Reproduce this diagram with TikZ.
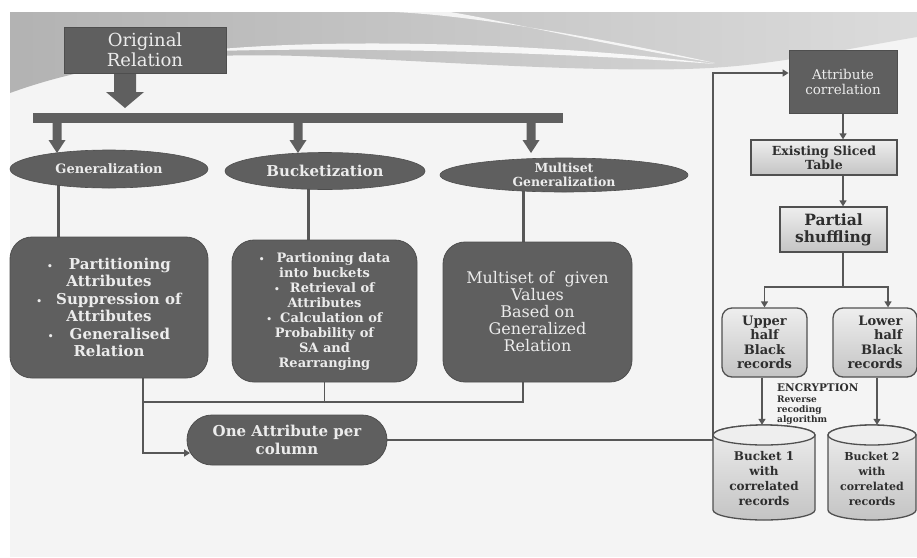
\documentclass[tikz,border=0pt]{standalone}
\usepackage{fontspec}
\setmainfont{DejaVu Serif}
\usetikzlibrary{arrows.meta,shapes.geometric,backgrounds,calc}
\definecolor{dk}{HTML}{5F5F5F}
\definecolor{dkb}{HTML}{4E4E4E}
\definecolor{ln}{HTML}{575757}
\definecolor{lt}{HTML}{ECECEC}
\definecolor{panel}{HTML}{F4F4F4}
\definecolor{lbord}{HTML}{505050}
\definecolor{ltop}{HTML}{EEEEEE}
\definecolor{lbot}{HTML}{C4C4C4}
\definecolor{txt}{HTML}{2E2E2E}
\newcommand\fsz[2]{\fontsize{#1}{#2}\selectfont}
\tikzset{
  bigdown/.pic={\fill[dk] (-11,0) -- (11,0) -- (11,18) -- (19,18) -- (0,34) -- (-19,18) -- (-11,18) -- cycle;},
  smalldown/.pic={\fill[dk] (-4.5,0) -- (4.5,0) -- (4.5,17) -- (8.5,17) -- (0,30) -- (-8.5,17) -- (-4.5,17) -- cycle;},
}
\begin{document}
\begin{tikzpicture}[x=1pt,y=-1pt,
  darkrect/.style={draw=dkb, line width=0.8pt, fill=dk, text=lt, align=center, inner sep=0pt},
  darkell/.style={ellipse, draw=dkb, line width=0.6pt, fill=dk, text=lt, align=center, inner sep=0pt},
  lightrect/.style={draw=lbord, line width=1.3pt, top color=ltop, bottom color=lbot, text=txt, align=center, inner sep=0pt},
  conn/.style={draw=ln, line width=1.7pt},
  heavy/.style={draw=ln, line width=3pt},
  arr/.style={conn, -{Triangle[length=6pt,width=7pt]}},
  cylfill/.style={draw=lbord, line width=1.3pt, top color=ltop, bottom color=lbot},
  cyltext/.style={text=txt, align=center, font=\bfseries\fsz{12}{15}},
]
\useasboundingbox (0,0) rectangle (917,557);
\begin{scope}[on background layer]
  \fill[white] (0,0) rectangle (917,557);
  \fill[panel] (10,12) rectangle (917,557);
  \shade[left color=gray!60, right color=gray!28] (10,12) -- (917,12) -- (917,37)
     .. controls (840,50) and (780,64) .. (710,68)
     .. controls (600,74) and (420,60) .. (300,56)
     .. controls (180,52) and (90,64) .. (10,93) -- cycle;
  \fill[white, opacity=0.85] (190,52) .. controls (330,36) and (560,44) .. (715,64)
     .. controls (560,52) and (330,46) .. (190,52) -- cycle;
  \fill[white, opacity=0.8] (395,12) .. controls (480,16) and (610,40) .. (715,63)
     .. controls (600,44) and (500,20) .. (450,12) -- cycle;
\end{scope}

% top
\node[darkrect, minimum width=162, minimum height=46, font=\fsz{18}{20}] (orig) at (145,50) {Original\\Relation};
\pic at (125,74) {bigdown};
\node[fill=dk, minimum width=530, minimum height=10, inner sep=0pt] (bar) at (298,118) {};
\pic at (57,123) {smalldown};
\pic at (298,123) {smalldown};
\pic at (531,123) {smalldown};

% ellipses
\node[darkell, minimum width=198, minimum height=38, font=\bfseries\fsz{13}{15}] (gen) at (109,169) {Generalization};
\node[darkell, minimum width=200, minimum height=37, font=\bfseries\fsz{15}{17}] (buck) at (325,171) {Bucketization};
\node[darkell, minimum width=248, minimum height=34,
  label={[text=lt, align=center, font=\bfseries\fsz{12.5}{14}]center:Multiset\\Generalization}] (multi) at (564,175) {};

% boxes
\node[darkrect, rounded corners=22pt, minimum width=198, minimum height=141, font=\bfseries\fsz{15}{17.5}] (b1) at (109,307.5)
  {{\small\textbullet}\hspace{16pt}Partitioning\\Attributes\\{\small\textbullet}\hspace{14pt}Suppression of\\Attributes\\{\small\textbullet}\hspace{16pt}Generalised\\Relation};
\node[darkrect, rounded corners=22pt, minimum width=185, minimum height=142, font=\bfseries\fsz{13}{15}] (b2) at (324.5,311)
  {{\small\textbullet}\hspace{12pt}Partioning data\\into buckets\\{\small\textbullet}\hspace{10pt}Retrieval of\\Attributes\\{\small\textbullet}\hspace{8pt}Calculation of\\Probability of\\SA and\\Rearranging};
\node[darkrect, rounded corners=22pt, minimum width=189, minimum height=140, font=\fsz{16}{17}] (b3) at (537.5,312)
  {Multiset of~ given\\Values\\Based on\\Generalized\\Relation};

\node[darkrect, rounded corners=25pt, minimum width=200, minimum height=50, font=\bfseries\fsz{15}{18}] (oval) at (287,440) {One Attribute per\\column};

% right column
\node[darkrect, minimum width=108, minimum height=63, font=\fsz{13.5}{15}] (attr) at (843,81.5) {Attribute\\correlation};
\node[lightrect, minimum width=146, minimum height=35, font=\bfseries\fsz{12.5}{14}] (est) at (824,157.5) {Existing Sliced\\Table};
\node[lightrect, minimum width=107, minimum height=45, font=\bfseries\fsz{15.5}{17}] (ps) at (833.5,229.5) {Partial\\shuffling};
\node[lightrect, rounded corners=10pt, minimum width=85, minimum height=69, font=\bfseries\fsz{13}{14.5}] (up) at (764.5,342.5) {Upper\\half\\Black\\records};
\node[lightrect, rounded corners=10pt, minimum width=84, minimum height=69, font=\bfseries\fsz{13}{14.5}, align=right] (lo) at (875,342.5) {Lower\\half\\Black\\records};

\node[anchor=west, text=txt, font=\bfseries\fsz{10.5}{12}, inner sep=0pt] (enc) at (777,388) {ENCRYPTION};
\node[anchor=north west, text=txt, align=left, font=\bfseries\fsz{9}{10}, inner sep=0pt] (rev) at (777,396) {Reverse\\recoding\\algorithm};

% cylinders
\path[cylfill] (713,435) -- (713,510) arc[start angle=180,end angle=360,x radius=51pt,y radius=10pt]
   -- (815,435) arc[start angle=0,end angle=180,x radius=51pt,y radius=10pt] -- cycle;
\draw[lbord, line width=1.3pt, fill=ltop] (764,435) ellipse[x radius=51pt, y radius=10pt];
\node[minimum width=102, minimum height=95, inner sep=0pt,
  label={[cyltext, yshift=-6pt]center:Bucket 1\\with\\correlated\\records}] (c1) at (764,472.5) {};

\path[cylfill] (828,435) -- (828,510) arc[start angle=180,end angle=360,x radius=44pt,y radius=10pt]
   -- (916,435) arc[start angle=0,end angle=180,x radius=44pt,y radius=10pt] -- cycle;
\draw[lbord, line width=1.3pt, fill=ltop] (872,435) ellipse[x radius=44pt, y radius=10pt];
\node[minimum width=88, minimum height=95, inner sep=0pt,
  label={[cyltext, font=\bfseries\fsz{11}{15}, yshift=-6pt]center:Bucket 2\\with\\correlated\\records}] (c2) at (872,472.5) {};

% connectors
\coordinate (jn) at (143,402);
\coordinate (jr) at (523,402);
\coordinate (turn) at (713,440);
\coordinate (split) at (843,287);
\begin{scope}[on background layer]
  \draw[heavy] (gen.center -| 58,0) -- (b1.north -| 58,0);
  \draw[heavy] (buck.center -| 308,0) -- (b2.north -| 308,0);
  \draw[heavy] (multi.center -| jr) -- (b3.north -| jr);
  \draw[arr] (b1.south -| jn) |- ($(oval.west)+(3.5,13)$);
  \draw[conn] (jn) -- (jr) -- (b3.south -| jr);
  \draw[conn] (b2.south) -- (b2.south |- jn);
  \draw[arr] (oval.east) -- (turn) |- ($(attr.west)+(0,-8.5)$);
  \draw[arr] (attr.south) -- (attr.south |- est.north);
  \draw[arr] (est.south -| attr.south) -- (ps.north -| attr.south);
  \draw[conn] (ps.south -| split) -- (split);
  \draw[arr] (split) -| (up.north);
  \draw[arr] (split) -| ($(lo.north)+(13,0)$);
  \draw[arr] (up.south -| 762,0) -- (c1.north -| 762,0);
  \draw[arr] (lo.south -| 877,0) -- (c2.north -| 877,0);
\end{scope}
\end{tikzpicture}
\end{document}
